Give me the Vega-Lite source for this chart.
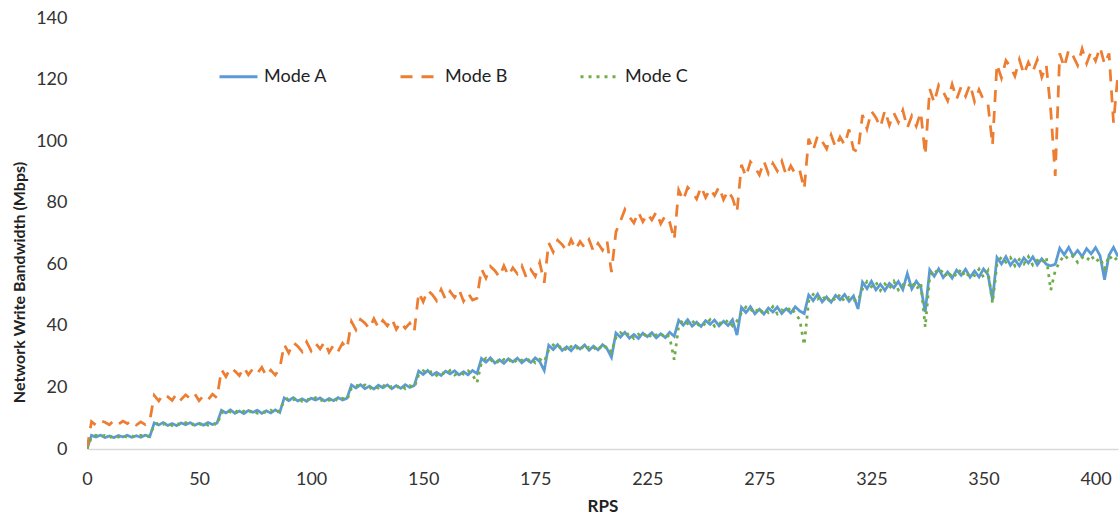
{
  "$schema": "https://vega.github.io/schema/vega-lite/v6.json",
  "width": 1031,
  "height": 431,
  "autosize": {"type": "none"},
  "padding": {"left": 87, "top": 18, "right": 2, "bottom": 65},
  "background": "white",
  "config": {"view": {"stroke": null}, "font": "Lato"},
  "data": {"values": [
    {"x":0,"A":0,"B":0,"C":0},
    {"x":2,"A":4.42,"B":8.9,"C":3.82},
    {"x":4,"A":3.86,"B":7.7,"C":4.46},
    {"x":6,"A":4.5,"B":9.22,"C":4.02},
    {"x":8,"A":3.74,"B":8.66,"C":4.42},
    {"x":10,"A":4.22,"B":7.86,"C":3.7},
    {"x":12,"A":3.7,"B":9.3,"C":4.26},
    {"x":14,"A":4.38,"B":8.02,"C":3.86},
    {"x":16,"A":3.94,"B":9.06,"C":4.5},
    {"x":18,"A":4.46,"B":8.26,"C":3.74},
    {"x":20,"A":3.78,"B":9.3,"C":4.18},
    {"x":22,"A":4.3,"B":7.78,"C":3.9},
    {"x":24,"A":3.82,"B":8.82,"C":4.46},
    {"x":26,"A":4.5,"B":7.94,"C":3.78},
    {"x":28,"A":3.98,"B":9.14,"C":4.34},
    {"x":30,"A":8.5,"B":17.4,"C":7.75},
    {"x":32,"A":7.8,"B":15.6,"C":8.55},
    {"x":34,"A":8.6,"B":17.9,"C":8.0},
    {"x":36,"A":7.65,"B":17.0,"C":8.5},
    {"x":38,"A":8.25,"B":15.8,"C":7.6},
    {"x":40,"A":7.6,"B":18.0,"C":8.3},
    {"x":42,"A":8.45,"B":16.1,"C":7.8},
    {"x":44,"A":7.9,"B":17.6,"C":8.6},
    {"x":46,"A":8.55,"B":16.4,"C":7.65},
    {"x":48,"A":7.7,"B":18.0,"C":8.2},
    {"x":50,"A":8.35,"B":15.7,"C":7.85},
    {"x":52,"A":7.75,"B":17.3,"C":8.55},
    {"x":54,"A":8.6,"B":16.0,"C":7.7},
    {"x":56,"A":7.95,"B":17.8,"C":8.4},
    {"x":58,"A":8.4,"B":16.6,"C":7.9},
    {"x":60,"A":12.6,"B":25.8,"C":11.7},
    {"x":62,"A":11.7,"B":23.5,"C":12.6},
    {"x":64,"A":12.7,"B":26.4,"C":12.0},
    {"x":66,"A":11.6,"B":25.3,"C":12.6},
    {"x":68,"A":12.3,"B":23.8,"C":11.5},
    {"x":70,"A":11.5,"B":26.5,"C":12.3},
    {"x":72,"A":12.5,"B":24.1,"C":11.7},
    {"x":74,"A":11.9,"B":26.1,"C":12.7},
    {"x":76,"A":12.6,"B":24.6,"C":11.6},
    {"x":78,"A":11.6,"B":26.5,"C":12.2},
    {"x":80,"A":12.4,"B":23.7,"C":11.8},
    {"x":82,"A":11.7,"B":25.6,"C":12.6},
    {"x":84,"A":12.7,"B":24.0,"C":11.6},
    {"x":86,"A":11.9,"B":26.2,"C":12.5},
    {"x":88,"A":16.6,"B":33.9,"C":15.7},
    {"x":90,"A":15.7,"B":31.2,"C":16.6},
    {"x":92,"A":16.7,"B":34.6,"C":16.0},
    {"x":94,"A":15.6,"B":33.4,"C":16.6},
    {"x":96,"A":16.3,"B":31.6,"C":15.5},
    {"x":98,"A":15.5,"B":34.8,"C":16.3},
    {"x":100,"A":16.5,"B":31.9,"C":15.7},
    {"x":102,"A":15.9,"B":34.3,"C":16.7},
    {"x":104,"A":16.6,"B":32.5,"C":15.6},
    {"x":106,"A":15.6,"B":34.8,"C":16.2},
    {"x":108,"A":16.4,"B":31.4,"C":15.8},
    {"x":110,"A":15.7,"B":33.7,"C":16.6},
    {"x":112,"A":16.7,"B":31.7,"C":15.6},
    {"x":114,"A":15.9,"B":34.4,"C":16.5},
    {"x":116,"A":16.5,"B":32.6,"C":15.9},
    {"x":118,"A":20.8,"B":41.4,"C":19.7},
    {"x":120,"A":19.8,"B":38.7,"C":20.8},
    {"x":122,"A":20.9,"B":42.1,"C":20.1},
    {"x":124,"A":19.6,"B":40.9,"C":20.8},
    {"x":126,"A":20.4,"B":39.1,"C":19.5},
    {"x":128,"A":19.5,"B":42.3,"C":20.5},
    {"x":130,"A":20.7,"B":39.4,"C":19.8},
    {"x":132,"A":19.9,"B":41.8,"C":20.9},
    {"x":134,"A":20.8,"B":40.0,"C":19.6},
    {"x":136,"A":19.6,"B":42.3,"C":20.3},
    {"x":138,"A":20.6,"B":38.9,"C":19.9},
    {"x":140,"A":19.7,"B":41.2,"C":20.8},
    {"x":142,"A":20.9,"B":39.2,"C":19.6},
    {"x":144,"A":20.0,"B":40.9,"C":20.6},
    {"x":146,"A":20.6,"B":38.1,"C":19.9},
    {"x":148,"A":25.3,"B":50.8,"C":24.1},
    {"x":150,"A":24.2,"B":47.8,"C":25.4},
    {"x":152,"A":25.5,"B":51.6,"C":24.5},
    {"x":154,"A":24.0,"B":50.2,"C":25.3},
    {"x":156,"A":24.9,"B":48.2,"C":23.9},
    {"x":158,"A":23.9,"B":51.8,"C":25.0},
    {"x":160,"A":25.3,"B":48.6,"C":24.2},
    {"x":162,"A":24.4,"B":51.2,"C":25.5},
    {"x":164,"A":25.4,"B":49.2,"C":24.0},
    {"x":166,"A":24.1,"B":51.8,"C":24.9},
    {"x":168,"A":25.1,"B":48.0,"C":24.3},
    {"x":170,"A":24.1,"B":50.6,"C":25.4},
    {"x":172,"A":25.5,"B":48.4,"C":24.1},
    {"x":174,"A":24.5,"B":49.0,"C":21.5},
    {"x":176,"A":29.4,"B":58.5,"C":28.1},
    {"x":178,"A":28.2,"B":55.5,"C":29.5},
    {"x":180,"A":29.6,"B":59.3,"C":28.5},
    {"x":182,"A":27.9,"B":57.9,"C":29.4},
    {"x":184,"A":29.0,"B":55.9,"C":27.8},
    {"x":186,"A":27.8,"B":59.5,"C":29.1},
    {"x":188,"A":29.3,"B":56.3,"C":28.2},
    {"x":190,"A":28.3,"B":58.9,"C":29.6},
    {"x":192,"A":29.5,"B":56.9,"C":27.9},
    {"x":194,"A":28.0,"B":59.5,"C":28.9},
    {"x":196,"A":29.2,"B":55.7,"C":28.3},
    {"x":198,"A":28.1,"B":58.3,"C":29.5},
    {"x":200,"A":29.6,"B":56.1,"C":28.0},
    {"x":202,"A":28.4,"B":60.5,"C":29.2},
    {"x":204,"A":25.5,"B":54.0,"C":28.3},
    {"x":206,"A":33.7,"B":67.0,"C":32.2},
    {"x":208,"A":32.3,"B":64.0,"C":33.8},
    {"x":210,"A":33.9,"B":67.8,"C":32.7},
    {"x":212,"A":32.0,"B":66.4,"C":33.7},
    {"x":214,"A":33.2,"B":64.4,"C":31.9},
    {"x":216,"A":31.9,"B":68.0,"C":33.3},
    {"x":218,"A":33.6,"B":64.8,"C":32.3},
    {"x":220,"A":32.5,"B":67.4,"C":33.9},
    {"x":222,"A":33.8,"B":65.4,"C":32.0},
    {"x":224,"A":32.1,"B":68.0,"C":33.1},
    {"x":226,"A":33.4,"B":64.2,"C":32.4},
    {"x":228,"A":32.2,"B":66.8,"C":33.8},
    {"x":230,"A":33.9,"B":64.6,"C":32.1},
    {"x":232,"A":32.6,"B":67.6,"C":33.5},
    {"x":234,"A":29.8,"B":57.5,"C":31.5},
    {"x":236,"A":37.7,"B":70.5,"C":36.2},
    {"x":238,"A":36.3,"B":74.0,"C":37.8},
    {"x":240,"A":37.9,"B":77.8,"C":36.7},
    {"x":242,"A":36.0,"B":75.4,"C":37.7},
    {"x":244,"A":37.2,"B":73.4,"C":35.9},
    {"x":246,"A":35.9,"B":77.0,"C":37.3},
    {"x":248,"A":37.6,"B":73.8,"C":36.3},
    {"x":250,"A":36.5,"B":76.4,"C":37.9},
    {"x":252,"A":37.8,"B":74.4,"C":36.0},
    {"x":254,"A":36.1,"B":77.0,"C":37.1},
    {"x":256,"A":37.4,"B":73.2,"C":36.4},
    {"x":258,"A":36.2,"B":75.8,"C":37.8},
    {"x":260,"A":37.9,"B":73.6,"C":36.1},
    {"x":262,"A":36.6,"B":68.0,"C":29.0},
    {"x":264,"A":41.8,"B":84.1,"C":40.1},
    {"x":266,"A":40.2,"B":80.8,"C":41.9},
    {"x":268,"A":42.0,"B":85.0,"C":40.7},
    {"x":270,"A":39.9,"B":83.4,"C":41.8},
    {"x":272,"A":41.2,"B":81.2,"C":39.8},
    {"x":274,"A":39.8,"B":85.2,"C":41.3},
    {"x":276,"A":41.7,"B":81.7,"C":40.2},
    {"x":278,"A":40.5,"B":84.5,"C":42.0},
    {"x":280,"A":41.9,"B":82.3,"C":39.9},
    {"x":282,"A":40.0,"B":85.2,"C":41.1},
    {"x":284,"A":41.5,"B":81.0,"C":40.4},
    {"x":286,"A":40.1,"B":83.9,"C":41.9},
    {"x":288,"A":42.0,"B":81.5,"C":40.0},
    {"x":290,"A":37.0,"B":77.0,"C":41.6},
    {"x":292,"A":46.0,"B":92.3,"C":44.2},
    {"x":294,"A":44.3,"B":88.5,"C":46.1},
    {"x":296,"A":46.2,"B":93.3,"C":44.8},
    {"x":298,"A":43.9,"B":91.5,"C":46.0},
    {"x":300,"A":45.4,"B":89.0,"C":43.8},
    {"x":302,"A":43.8,"B":93.5,"C":45.5},
    {"x":304,"A":45.8,"B":89.5,"C":44.3},
    {"x":306,"A":44.5,"B":92.8,"C":46.2},
    {"x":308,"A":46.1,"B":90.3,"C":43.9},
    {"x":310,"A":44.0,"B":93.5,"C":45.2},
    {"x":312,"A":45.6,"B":88.8,"C":44.4},
    {"x":314,"A":44.2,"B":92.0,"C":46.1},
    {"x":316,"A":46.2,"B":89.3,"C":44.0},
    {"x":318,"A":44.8,"B":90.5,"C":42.0},
    {"x":320,"A":44.0,"B":84.5,"C":33.8},
    {"x":322,"A":50.0,"B":100.8,"C":48.1},
    {"x":324,"A":48.2,"B":97.0,"C":50.2},
    {"x":326,"A":50.3,"B":101.8,"C":48.7},
    {"x":328,"A":47.8,"B":100.0,"C":50.0},
    {"x":330,"A":49.4,"B":97.5,"C":47.7},
    {"x":332,"A":47.7,"B":102.0,"C":49.5},
    {"x":334,"A":49.9,"B":98.0,"C":48.2},
    {"x":336,"A":48.5,"B":101.3,"C":50.3},
    {"x":338,"A":50.2,"B":98.8,"C":47.8},
    {"x":340,"A":48.0,"B":103.8,"C":49.3},
    {"x":342,"A":49.7,"B":97.3,"C":48.4},
    {"x":344,"A":45.5,"B":96.5,"C":48.0},
    {"x":346,"A":54.2,"B":108.5,"C":52.0},
    {"x":348,"A":52.1,"B":104.0,"C":54.4},
    {"x":350,"A":54.5,"B":109.7,"C":52.7},
    {"x":352,"A":51.7,"B":107.6,"C":54.2},
    {"x":354,"A":53.5,"B":104.6,"C":51.5},
    {"x":356,"A":51.5,"B":110.0,"C":53.6},
    {"x":358,"A":53.8,"B":105.2,"C":52.1},
    {"x":360,"A":52.4,"B":109.1,"C":54.5},
    {"x":362,"A":54.4,"B":106.1,"C":51.7},
    {"x":364,"A":51.8,"B":110.0,"C":53.3},
    {"x":366,"A":57.0,"B":104.3,"C":52.3},
    {"x":368,"A":52.0,"B":108.2,"C":54.4},
    {"x":370,"A":54.5,"B":104.9,"C":51.8},
    {"x":372,"A":52.6,"B":109.4,"C":53.9},
    {"x":374,"A":44.5,"B":95.5,"C":39.6},
    {"x":376,"A":58.2,"B":117.0,"C":56.0},
    {"x":378,"A":56.1,"B":112.5,"C":58.4},
    {"x":380,"A":58.5,"B":118.2,"C":56.7},
    {"x":382,"A":55.7,"B":116.1,"C":58.2},
    {"x":384,"A":57.5,"B":113.1,"C":55.5},
    {"x":386,"A":55.5,"B":118.5,"C":57.6},
    {"x":388,"A":58.1,"B":113.7,"C":56.1},
    {"x":390,"A":56.4,"B":117.6,"C":58.5},
    {"x":392,"A":58.4,"B":114.6,"C":55.7},
    {"x":394,"A":55.8,"B":118.5,"C":57.3},
    {"x":396,"A":57.8,"B":112.8,"C":56.3},
    {"x":398,"A":55.9,"B":116.7,"C":58.4},
    {"x":400,"A":58.5,"B":113.4,"C":55.8},
    {"x":402,"A":56.6,"B":112.0,"C":57.9},
    {"x":404,"A":48.4,"B":98.7,"C":47.4},
    {"x":406,"A":62.2,"B":125.0,"C":60.0},
    {"x":408,"A":60.1,"B":120.5,"C":62.4},
    {"x":410,"A":62.5,"B":126.2,"C":60.7},
    {"x":412,"A":59.7,"B":124.1,"C":62.2},
    {"x":414,"A":61.5,"B":121.1,"C":59.5},
    {"x":416,"A":59.5,"B":126.5,"C":61.6},
    {"x":418,"A":62.1,"B":121.7,"C":60.1},
    {"x":420,"A":60.4,"B":125.6,"C":62.5},
    {"x":422,"A":62.4,"B":122.6,"C":59.7},
    {"x":424,"A":59.8,"B":126.5,"C":61.3},
    {"x":426,"A":61.8,"B":120.8,"C":60.3},
    {"x":428,"A":60.0,"B":124.7,"C":62.4},
    {"x":430,"A":59.5,"B":110.0,"C":51.6},
    {"x":432,"A":60.0,"B":88.7,"C":58.0},
    {"x":434,"A":65.2,"B":128.5,"C":60.8},
    {"x":436,"A":63.1,"B":124.0,"C":63.0},
    {"x":438,"A":65.5,"B":129.7,"C":61.6},
    {"x":440,"A":62.7,"B":127.6,"C":62.8},
    {"x":442,"A":64.5,"B":124.6,"C":60.6},
    {"x":444,"A":62.5,"B":130.0,"C":62.3},
    {"x":446,"A":65.1,"B":125.2,"C":61.1},
    {"x":448,"A":63.4,"B":129.1,"C":63.0},
    {"x":450,"A":65.4,"B":126.1,"C":60.7},
    {"x":452,"A":62.8,"B":130.5,"C":62.0},
    {"x":454,"A":55.0,"B":125.0,"C":58.5},
    {"x":456,"A":63.0,"B":128.5,"C":62.9},
    {"x":458,"A":65.5,"B":106.0,"C":61.0},
    {"x":460,"A":62.5,"B":122.0,"C":62.5}
  ]},
  "transform": [{"fold": ["A", "B", "C"], "as": ["mode", "bw"]}],
  "mark": {"type": "line", "strokeWidth": 2.75, "clip": true},
  "encoding": {
    "x": {
      "field": "x", "type": "quantitative",
      "scale": {"domain": [0, 460], "nice": false, "zero": false},
      "axis": {
        "title": "RPS",
        "values": [0, 50, 100, 150, 200, 250, 300, 350, 400, 450],
        "labelExpr": "['0','50','100','150','175','225','275','325','350','400'][round(datum.value/50)]",
        "grid": false, "ticks": false, "tickSize": 0,
        "domainColor": "#D9D9D9", "domainWidth": 1.5,
        "labelFont": "Lato", "labelFontSize": 18, "labelColor": "#333333", "labelPadding": 21,
        "labelFlush": false, "labelOverlap": false,
        "titleFont": "Lato", "titleFontSize": 17, "titleFontWeight": "bold", "titleColor": "#222222", "titlePadding": 10
      }
    },
    "y": {
      "field": "bw", "type": "quantitative",
      "scale": {"domain": [0, 140], "nice": false},
      "axis": {
        "title": "Network Write Bandwidth (Mbps)",
        "values": [0, 20, 40, 60, 80, 100, 120, 140],
        "grid": false, "ticks": false, "domain": false,
        "labelFont": "Lato", "labelFontSize": 18, "labelColor": "#333333", "labelPadding": 20,
        "titleFont": "Lato", "titleFontSize": 16, "titleFontWeight": "bold", "titleColor": "#222222",
        "titleAngle": -90, "titleX": -60, "titleY": 264, "titleBaseline": "bottom", "titleAlign": "center"
      }
    },
    "color": {
      "field": "mode", "type": "nominal",
      "scale": {"domain": ["A", "B", "C"], "range": ["#5B9BD5", "#ED7D31", "#70AD47"]},
      "legend": {
        "orient": "none", "legendX": 131, "legendY": 38, "direction": "horizontal",
        "title": null, "labelExpr": "'Mode ' + datum.label",
        "symbolType": "stroke", "symbolSize": 1444, "symbolStrokeWidth": 3,
        "labelFont": "Lato", "labelFontSize": 18, "labelColor": "#222222", "labelOffset": 5,
        "columnPadding": 66
      }
    },
    "strokeDash": {
      "field": "mode", "type": "nominal",
      "scale": {"domain": ["A", "B", "C"], "range": [[1, 0], [12, 9], [3, 5]]},
      "legend": {
        "orient": "none", "legendX": 131, "legendY": 38, "direction": "horizontal",
        "title": null, "labelExpr": "'Mode ' + datum.label",
        "symbolType": "stroke", "symbolSize": 1444, "symbolStrokeWidth": 3,
        "labelFont": "Lato", "labelFontSize": 18, "labelColor": "#222222", "labelOffset": 5,
        "columnPadding": 66
      }
    }
  }
}
